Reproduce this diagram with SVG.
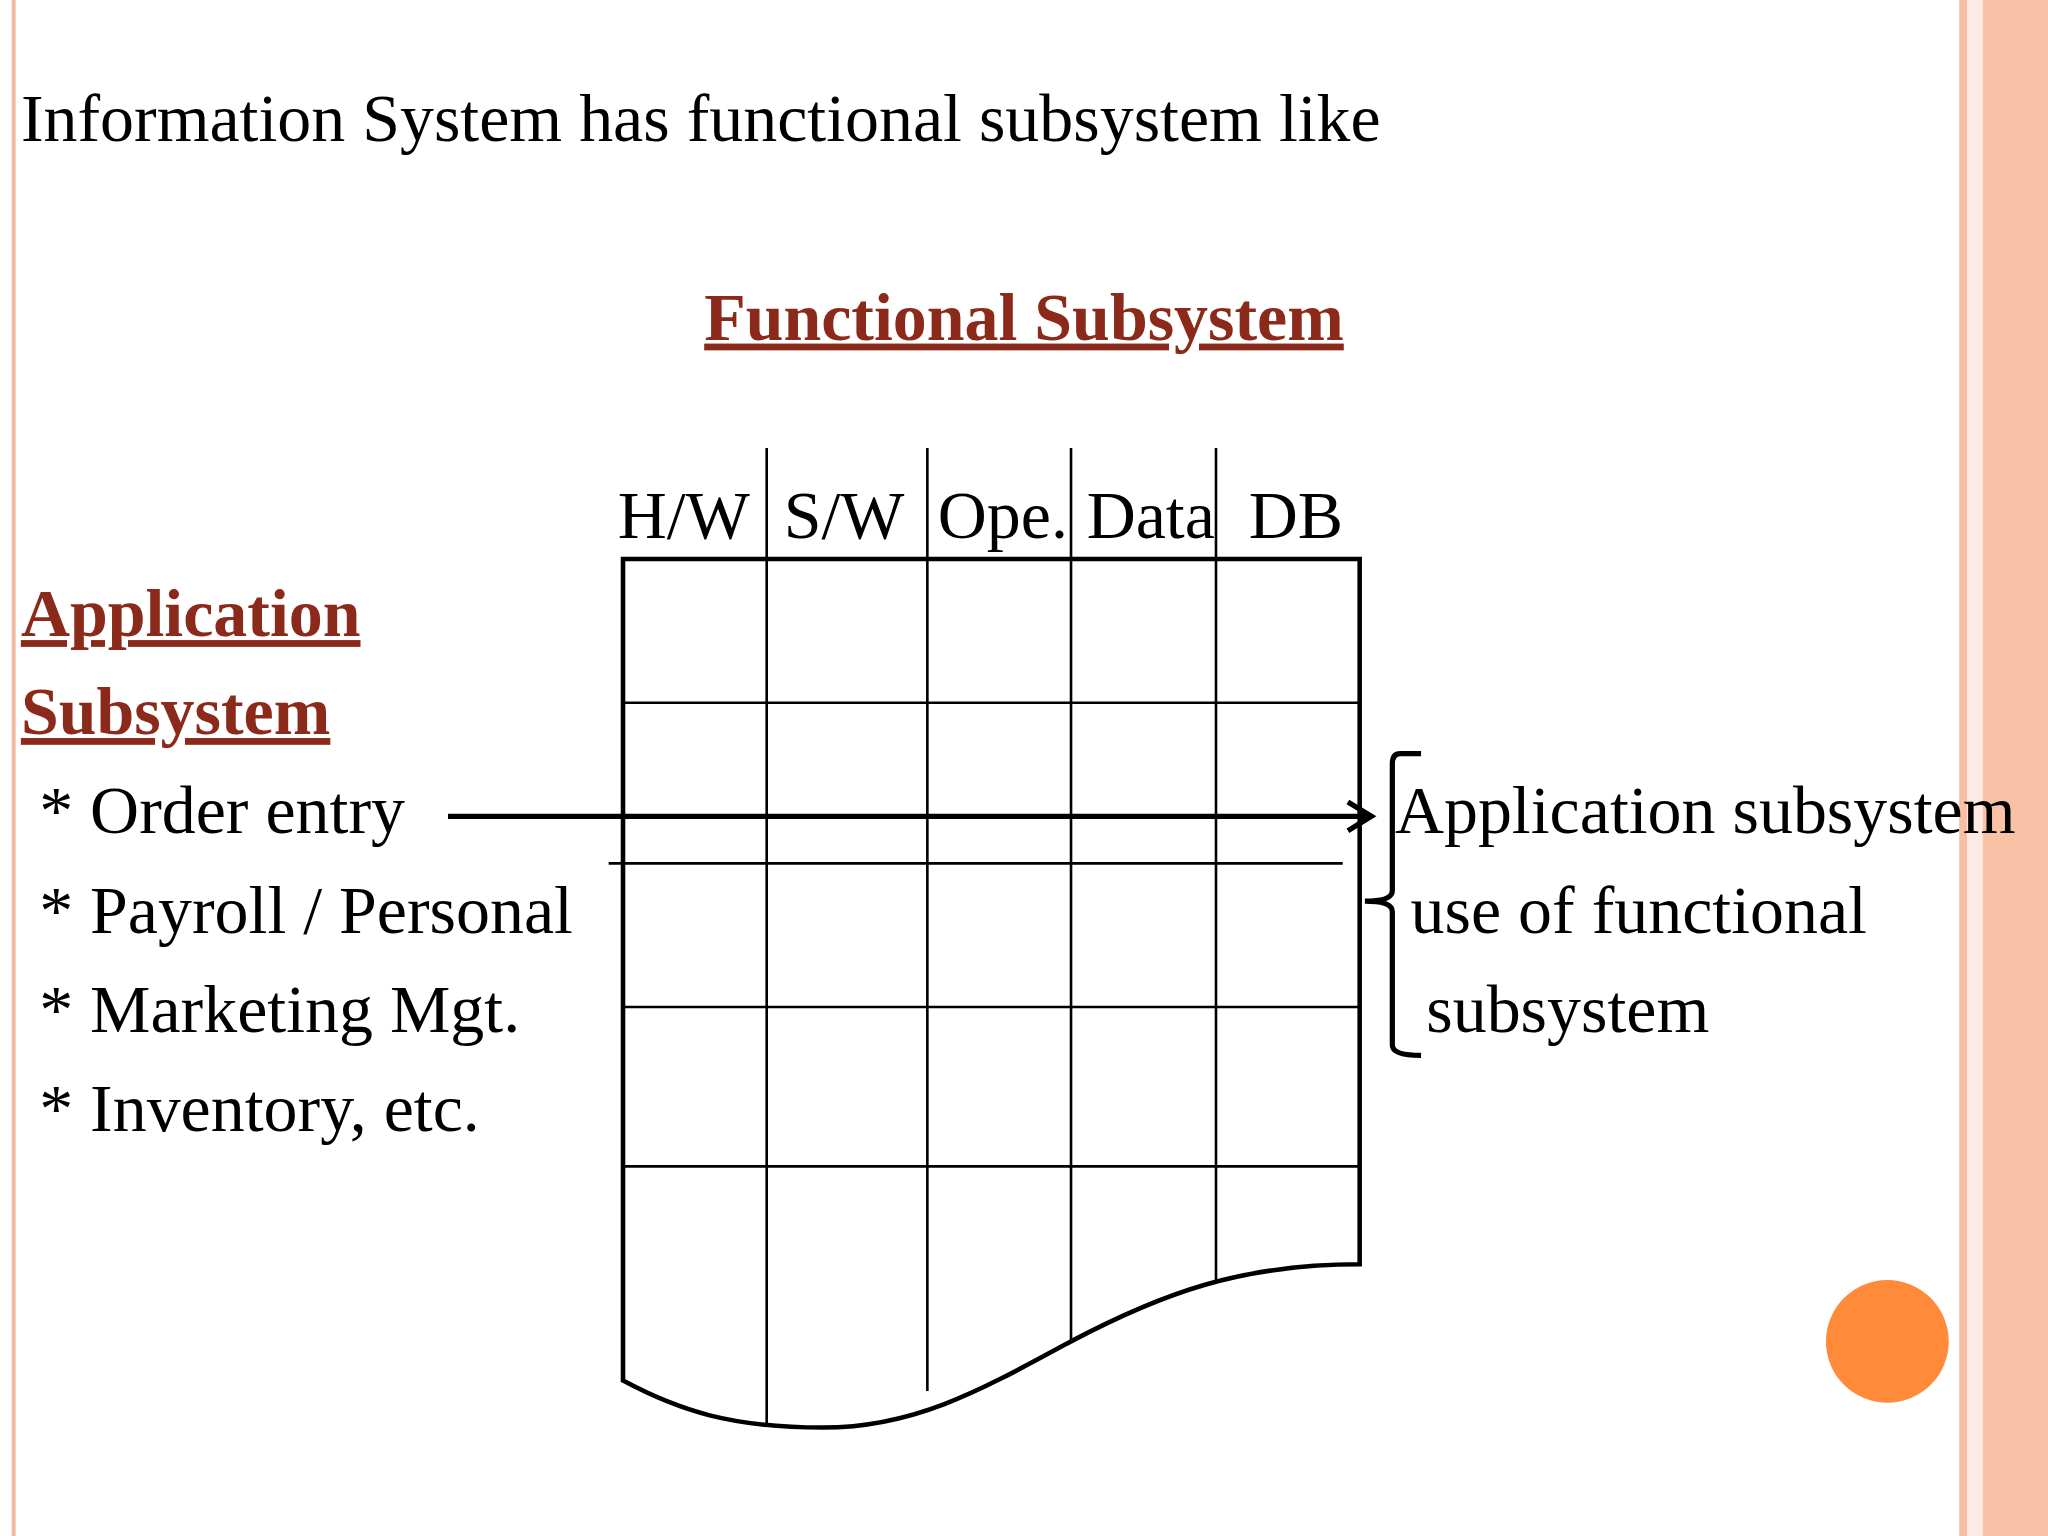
<svg xmlns="http://www.w3.org/2000/svg" width="2048" height="1536" viewBox="0 0 2048 1536">
<style>
.t{font-family:"Liberation Serif",serif;font-size:52px;fill:#000}
.h{font-family:"Liberation Serif",serif;font-size:52px;font-weight:bold;fill:#8B2A1A;text-decoration:underline}
.g{stroke:#000;stroke-width:2;fill:none}
.o{stroke:#000;stroke-width:3.5;fill:none}
</style>
<rect width="2048" height="1536" fill="#fff"/>
<g transform="scale(1.30612)">
<g id="border">
<rect x="9" y="0" width="3" height="1176" fill="#F8B8A0"/>
<rect x="1500" y="0" width="6" height="1176" fill="#F8BFA5"/>
<rect x="1506" y="0" width="12" height="1176" fill="#FDEBE3"/>
<rect x="1518" y="0" width="50" height="1176" fill="#F9C1A6"/>
<circle cx="1445" cy="1027" r="47" fill="#FE8A3A"/>
</g>
<g id="title"><text class="t" x="16" y="108">Information System has functional subsystem like</text></g>
<g id="heading"><text class="h" x="784" y="260" text-anchor="middle">Functional Subsystem</text></g>
<g id="grid">
<text class="t" x="473" y="412">H/W</text>
<text class="t" x="600" y="412">S/W</text>
<text class="t" x="718" y="412">Ope.</text>
<text class="t" x="832" y="412">Data</text>
<text class="t" x="956" y="412">DB</text>
<path class="o" d="M477,428 H1041 V968 C950,968 890,990 820,1027 C750,1065 700,1093 630,1093 C560,1093 520,1080 477,1057 Z"/>
<path class="g" d="M587,343 V1090 M710,343 V1065 M820,343 V1027 M931,343 V980 M477,538 H1041 M466,661 H1028 M477,771 H1041 M477,893 H1041"/>
</g>
<g id="left">
<text class="h" x="16" y="487">Application</text>
<text class="h" x="16" y="562">Subsystem</text>
<text class="t" x="30" y="638">* Order entry</text>
<text class="t" x="30" y="714">* Payroll / Personal</text>
<text class="t" x="30" y="790">* Marketing Mgt.</text>
<text class="t" x="30" y="866">* Inventory, etc.</text>
</g>
<g id="right">
<text class="t" x="1068" y="638">Application subsystem</text>
<text class="t" x="1080" y="714">use of functional</text>
<text class="t" x="1092" y="790">subsystem</text>
<path d="M1088,577 H1072 Q1066,577 1066,585 V682 Q1066,690 1045,690 Q1066,690 1066,698 V800 Q1066,808 1088,808" fill="none" stroke="#000" stroke-width="4"/>
</g>
<g id="connectors">
<path d="M343,625 H1046" stroke="#000" stroke-width="4" fill="none"/>
<path d="M1032,614 L1050,625 L1032,636" stroke="#000" stroke-width="4" fill="none"/>
</g>
</g>
</svg>
